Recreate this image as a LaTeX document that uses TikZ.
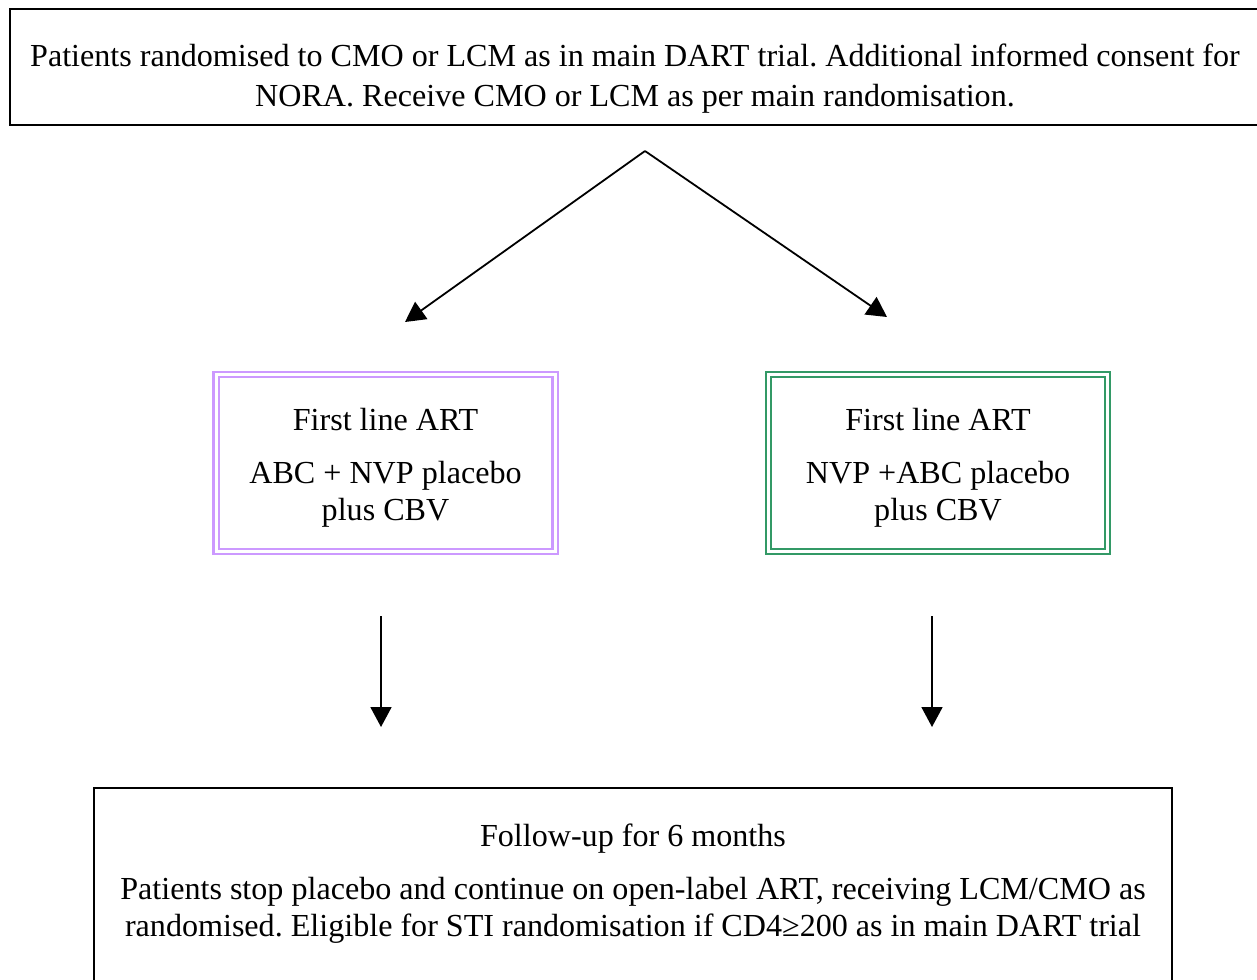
\documentclass[tikz,border=0pt]{standalone}
\usepackage{fontspec}
\setmainfont{Liberation Serif}
\usetikzlibrary{arrows.meta}

\definecolor{armabc}{HTML}{CC99FF}
\definecolor{armnvp}{HTML}{339966}

\tikzset{
  txt/.style={inner sep=0pt,align=center,font=\fontsize{32.1}{37}\selectfont},
  frame/.style={draw,line width=1.8pt,inner sep=0pt},
  armbox/.style={draw=#1,double,line width=2.2pt,double distance=3pt,inner sep=0pt,
    minimum width=339pt,minimum height=176.6pt},
  flow/.style={line width=1.8pt,-{Triangle[length=20pt,width=21pt]}}
}

\frenchspacing

\begin{document}
\begin{tikzpicture}[x=1pt,y=-1pt]

\useasboundingbox (0,0) rectangle (1257,979);
\clip (0,0) rectangle (1257,979);

% top box
\node[frame,minimum width=1250pt,minimum height=116pt] (trial) at (635,67) {};
\node[txt] (trialtext) at (635,79) {Patients randomised to CMO or LCM as in main DART trial. Additional informed consent for\\[3pt]
NORA. Receive CMO or LCM as per main randomisation.};

% the two arms
\node[armbox=armabc] (abc) at (385.5,463) {};
\node[txt] (abctext) at (385.5,468) {First line ART\\[16pt] ABC + NVP placebo\\ plus CBV};

\node[armbox=armnvp] (nvp) at (938,463) {};
\node[txt] (nvptext) at (938,468) {First line ART\\[16pt] NVP +ABC placebo\\ plus CBV};

% bottom box
\node[frame,minimum width=1078pt,minimum height=240pt] (followup) at (633,908) {};
\node[txt] (followuptext) at (633,884) {Follow-up for 6 months\\[16pt]
Patients stop placebo and continue on open-label ART, receiving LCM/CMO as\\
randomised. Eligible for STI randomisation if CD4≥200 as in main DART trial};

% arrows
\coordinate (split) at (645,151);
\coordinate (abcin) at (405,322);
\coordinate (nvpin) at (887,317);
\coordinate (abcout) at (381,616);
\coordinate (abcend) at (381,727);
\coordinate (nvpout) at (932,616);
\coordinate (nvpend) at (932,727);

\draw[flow] (split) -- (abcin);
\draw[flow] (split) -- (nvpin);

\draw[flow] (abcout) -- (abcend);
\draw[flow] (nvpout) -- (nvpend);

\end{tikzpicture}
\end{document}
